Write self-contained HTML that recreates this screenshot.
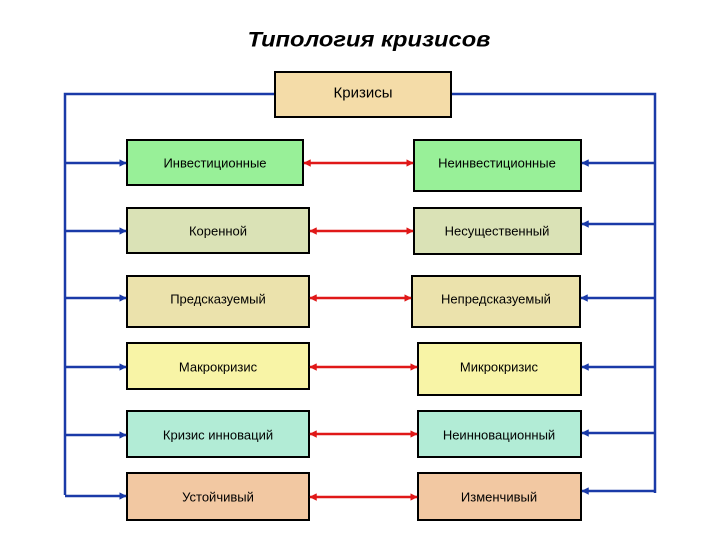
<!DOCTYPE html>
<html><head><meta charset="utf-8"><style>
html,body{margin:0;padding:0;background:#fff;}
svg{display:block;}
text{font-family:"Liberation Sans",sans-serif;font-size:13px;fill:#000;text-anchor:middle;dominant-baseline:central;}
</style></head><body>
<svg width="720" height="540" viewBox="0 0 720 540" xmlns="http://www.w3.org/2000/svg">
<defs>
<marker id="bh" viewBox="0 0 10 10" refX="9" refY="5" markerWidth="3" markerHeight="3" orient="auto"><path d="M0,0L10,5L0,10z" fill="#1a3aa8"/></marker>
<marker id="rh" viewBox="0 0 10 10" refX="9" refY="5" markerWidth="3" markerHeight="3" orient="auto-start-reverse"><path d="M0,0L10,5L0,10z" fill="#e01818"/></marker>
</defs>
<text x="369" y="40" style="font-size:21px;font-weight:bold;font-style:italic" textLength="243" lengthAdjust="spacingAndGlyphs">Типология кризисов</text>
<!-- blue frame -->
<g stroke="#1a3aa8" stroke-width="2.5" fill="none">
<polyline points="275,94 65,94 65,495"/>
<polyline points="451,94 655,94 655,493"/>
</g>
<rect x="275" y="72" width="176" height="45" fill="#f4dca8" stroke="#000" stroke-width="2"/>
<text x="363" y="93" style="font-size:15px">Кризисы</text>
<g stroke="#000" stroke-width="2">
<rect x="127" y="140" width="176" height="45" fill="#98f098"/>
<rect x="414" y="140" width="167" height="51" fill="#98f098"/>
<rect x="127" y="208" width="182" height="45" fill="#dae2b6"/>
<rect x="414" y="208" width="167" height="46" fill="#dae2b6"/>
<rect x="127" y="276" width="182" height="51" fill="#ebe2ac"/>
<rect x="412" y="276" width="168" height="51" fill="#ebe2ac"/>
<rect x="127" y="343" width="182" height="46" fill="#f8f4a6"/>
<rect x="418" y="343" width="163" height="52" fill="#f8f4a6"/>
<rect x="127" y="411" width="182" height="46" fill="#b2ecd6"/>
<rect x="418" y="411" width="163" height="46" fill="#b2ecd6"/>
<rect x="127" y="473" width="182" height="47" fill="#f2c8a2"/>
<rect x="418" y="473" width="163" height="47" fill="#f2c8a2"/>
</g>
<g>
<text x="215" y="163">Инвестиционные</text>
<text x="497" y="163">Неинвестиционные</text>
<text x="218" y="231">Коренной</text>
<text x="497" y="231">Несущественный</text>
<text x="218" y="299">Предсказуемый</text>
<text x="496" y="299">Непредсказуемый</text>
<text x="218" y="367">Макрокризис</text>
<text x="499" y="367">Микрокризис</text>
<text x="218" y="435">Кризис инноваций</text>
<text x="499" y="435">Неинновационный</text>
<text x="218" y="497">Устойчивый</text>
<text x="499" y="497">Изменчивый</text>
</g>
<!-- blue arrows -->
<g stroke="#1a3aa8" stroke-width="2.5" marker-end="url(#bh)">
<line x1="65" y1="163" x2="126" y2="163"/>
<line x1="65" y1="231" x2="126" y2="231"/>
<line x1="65" y1="298" x2="126" y2="298"/>
<line x1="65" y1="367" x2="126" y2="367"/>
<line x1="65" y1="435" x2="126" y2="435"/>
<line x1="65" y1="496" x2="126" y2="496"/>
<line x1="655" y1="163" x2="582" y2="163"/>
<line x1="655" y1="224" x2="582" y2="224"/>
<line x1="655" y1="298" x2="581" y2="298"/>
<line x1="655" y1="367" x2="582" y2="367"/>
<line x1="655" y1="433" x2="582" y2="433"/>
<line x1="655" y1="491" x2="582" y2="491"/>
</g>
<!-- red double arrows -->
<g stroke="#e01818" stroke-width="2.5" marker-start="url(#rh)" marker-end="url(#rh)">
<line x1="304" y1="163" x2="413" y2="163"/>
<line x1="310" y1="231" x2="413" y2="231"/>
<line x1="310" y1="298" x2="411" y2="298"/>
<line x1="310" y1="367" x2="417" y2="367"/>
<line x1="310" y1="434" x2="417" y2="434"/>
<line x1="310" y1="497" x2="417" y2="497"/>
</g>
</svg>
</body></html>
